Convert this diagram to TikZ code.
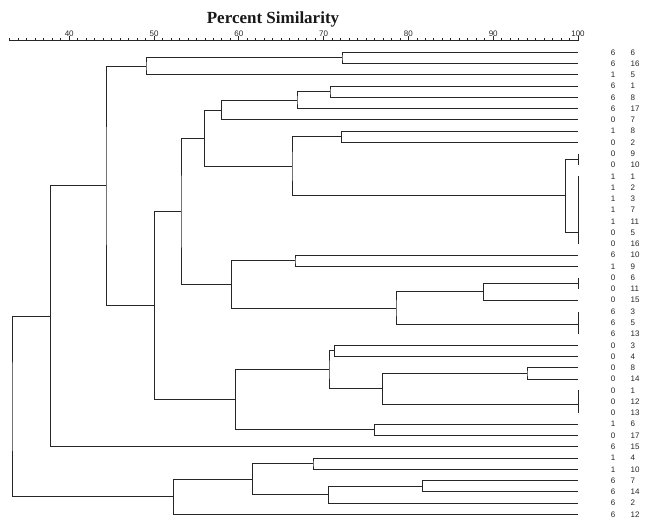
\documentclass[tikz,border=0pt]{standalone}
\usepackage{fontspec}
\setmainfont{Liberation Serif}
\newfontfamily\labfont{Liberation Sans}
\begin{document}
\begin{tikzpicture}[x=1pt,y=-1pt,
  dend/.style={draw=black!85, line width=1pt},
  tickline/.style={draw=black!85, line width=0.7pt},
  lab/.style={font=\labfont\fontsize{8}{9}\selectfont, inner sep=0pt, text=black!85}]
\useasboundingbox (0,0) rectangle (648,526);
\node[font=\bfseries\fontsize{17}{20}\selectfont, anchor=base, text=black!90] (title) at (273,24) {Percent Similarity};
% axis
\coordinate (ax0) at (9.8,40.7);
\coordinate (ax1) at (579,40.7);
\draw[tickline] (ax0) -- (ax1);
\foreach \v in {33,...,100} \draw[tickline] ({578-(100-\v)*8.48},40.7) -- ++(0,-2.5);
\foreach \v in {40,50,...,100} {
  \draw[tickline] ({578-(100-\v)*8.48},40.7) -- ++(0,-4.5);
  \node[lab] (t\v) at ({578-(100-\v)*8.48},33.3) {\v};
}
% leaves and labels
\foreach \a/\b [count=\r] in {6/6,6/16,1/5,6/1,6/8,6/17,0/7,1/8,0/2,0/9,0/10,1/1,1/2,1/3,1/7,1/11,0/5,0/16,6/10,1/9,0/6,0/11,0/15,6/3,6/5,6/13,0/3,0/4,0/8,0/14,0/1,0/12,0/13,1/6,0/17,6/15,1/4,1/10,6/7,6/14,6/2,6/12} {
  \coordinate (L\r) at (578,{52.3+(\r-1)*11.27});
  \node[lab] (g\r) at (613,{52.3+(\r-1)*11.27}) {\a};
  \node[lab,anchor=west] (s\r) at (630.5,{52.3+(\r-1)*11.27}) {\b};
}
% bars of identical leaves
\coordinate (bar1) at (578,159.4);
\coordinate (bar2) at (578,232.6);
\coordinate (bar3) at (578,283.3);
\coordinate (bar4) at (578,325);
\coordinate (bar5) at (578,404.3);
\draw[dend] (L10) -- (L11);
\draw[dend] (L12) -- (L18);
\draw[dend] (L21) -- (L22);
\draw[dend] (L24) -- (L26);
\draw[dend] (L31) -- (L33);
% internal nodes
\coordinate (A) at (342,57.9);
\coordinate (B) at (146,66.4);
\coordinate (C) at (330,91.7);
\coordinate (D) at (297,100.2);
\coordinate (E) at (221.7,110.1);
\coordinate (F) at (341.7,136.8);
\coordinate (G) at (565.7,196.0);
\coordinate (H) at (292,166.4);
\coordinate (I) at (204.3,138.3);
\coordinate (J) at (295,260.8);
\coordinate (K) at (483.3,291.8);
\coordinate (Ln) at (396,308.4);
\coordinate (M) at (231.3,284.6);
\coordinate (N) at (181,211.5);
\coordinate (O) at (334.3,351);
\coordinate (P) at (527,373.5);
\coordinate (Q) at (382.7,388.9);
\coordinate (R) at (329,370);
\coordinate (S) at (374.3,429.8);
\coordinate (T) at (235.7,399.9);
\coordinate (U) at (154.5,305.7);
\coordinate (V) at (106,186);
\coordinate (W) at (50.5,316.4);
\coordinate (X) at (313,463.7);
\coordinate (Y) at (422.3,486.2);
\coordinate (Z) at (328.7,494.7);
\coordinate (AA) at (252.7,479.2);
\coordinate (BB) at (173.3,496.8);
\coordinate (root) at (12,406.6);
\draw[dend] (L1) -| (A) |- (L2);
\draw[dend] (A) -| (B) |- (L3);
\draw[dend] (L4) -| (C) |- (L5);
\draw[dend] (C) -| (D) |- (L6);
\draw[dend] (D) -| (E) |- (L7);
\draw[dend] (L8) -| (F) |- (L9);
\draw[dend] (bar1) -| (G) |- (bar2);
\draw[dend] (F) -| (H) |- (G);
\draw[dend] (E) -| (I) |- (H);
\draw[dend] (L19) -| (J) |- (L20);
\draw[dend] (bar3) -| (K) |- (L23);
\draw[dend] (K) -| (Ln) |- (bar4);
\draw[dend] (J) -| (M) |- (Ln);
\draw[dend] (I) -| (N) |- (M);
\draw[dend] (L27) -| (O) |- (L28);
\draw[dend] (L29) -| (P) |- (L30);
\draw[dend] (P) -| (Q) |- (bar5);
\draw[dend] (O) -| (R) |- (Q);
\draw[dend] (L34) -| (S) |- (L35);
\draw[dend] (R) -| (T) |- (S);
\draw[dend] (N) -| (U) |- (T);
\draw[dend] (B) -| (V) |- (U);
\draw[dend] (V) -| (W) |- (L36);
\draw[dend] (L37) -| (X) |- (L38);
\draw[dend] (L39) -| (Y) |- (L40);
\draw[dend] (Y) -| (Z) |- (L41);
\draw[dend] (X) -| (AA) |- (Z);
\draw[dend] (AA) -| (BB) |- (L42);
\draw[dend] (W) -| (root) |- (BB);
\end{tikzpicture}
\end{document}
